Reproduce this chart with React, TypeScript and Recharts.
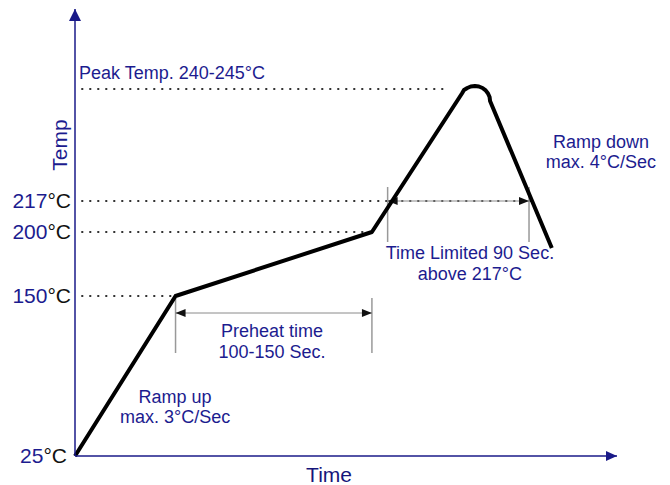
import React from "react";
import { ComposedChart, Line, XAxis, YAxis, ReferenceLine, ReferenceDot } from "recharts";

// schematic reflow profile: time in seconds, height is a display level (not linear in °C)
const profileTime = [0, 64, 189, 246.3, 247.6, 249.7, 251.9, 254.6, 257.1, 259.4, 261.4, 262.9, 263.9, 264.2, 303.5];
const profileLevel = [0, 160, 224, 362.5, 366, 368, 369.5, 370, 369.5, 368, 365.6, 362.5, 359, 355, 208];

const tempTicks = [0, 160, 224, 255];
const tempLabels = ["25", "150", "200", "217"];
const peakLevel = 367;
const peakLabel = "Peak Temp. 240-245°C";

// where each dotted guide stops (seconds)
const guideEnds = [0, 64, 189, 294];
const peakGuideEnd = 238;

const preheatStart = 64;
const preheatEnd = 189;
const liquidStart = 199;
const liquidEnd = 289;

const X_MAX = 345;
const Y_MAX = 447;

const NAVY = "#1c1c8f";
const AXIS = "#1a1a88";
const FONT = "'Liberation Sans', Arial, sans-serif";

var chartData: { t: number; level: number }[] = [];
for (var i = 0; i < profileTime.length; i++) {
  chartData.push({ t: profileTime[i], level: profileLevel[i] });
}

function TempTick(props: any) {
  var idx = tempTicks.indexOf(props.payload.value);
  var dx = idx === 0 ? -4 : 0;
  return (
    <text x={props.x + dx - 1} y={props.y + 7} textAnchor="end" fontSize={21} fontFamily={FONT}>
      <tspan fill={NAVY}>{tempLabels[idx]}</tspan>
      <tspan fill="#111">°C</tspan>
    </text>
  );
}

function textShape(lines: string[], opts: any) {
  return function (p: any) {
    var size = opts.size || 18;
    var gap = opts.gap || 20;
    return (
      <text
        x={p.cx}
        y={p.cy}
        textAnchor={opts.anchor || "middle"}
        fontSize={size}
        fontFamily={FONT}
        fill={opts.color || NAVY}
        transform={opts.rotate ? "rotate(-90," + p.cx + "," + p.cy + ")" : undefined}
      >
        {lines.map(function (l, k) {
          return (
            <tspan key={k} x={p.cx} dy={k === 0 ? 0 : gap}>
              {l}
            </tspan>
          );
        })}
      </text>
    );
  };
}

function ArrowUp(p: any) {
  var x = p.cx, y = p.cy;
  return <polygon points={x + "," + y + " " + (x - 6) + "," + (y + 12) + " " + (x + 6) + "," + (y + 12)} fill={AXIS} />;
}

function ArrowRight(p: any) {
  var x = p.cx, y = p.cy;
  return <polygon points={x + "," + y + " " + (x - 11) + "," + (y - 5) + " " + (x - 11) + "," + (y + 5)} fill={AXIS} />;
}

function DimLine(p: any) {
  var x1 = p.x1, x2 = p.x2, y = p.y1;
  return (
    <g>
      <line x1={x1} y1={y} x2={x2} y2={y} stroke="#8a8a8a" strokeWidth={1} />
      <polygon points={x1 + "," + y + " " + (x1 + 10) + "," + (y - 4) + " " + (x1 + 10) + "," + (y + 4)} fill="#111" />
      <polygon points={x2 + "," + y + " " + (x2 - 10) + "," + (y - 4) + " " + (x2 - 10) + "," + (y + 4)} fill="#111" />
    </g>
  );
}

export default function App() {
  return (
    <div style={{ position: "absolute", left: 0, top: 0, background: "#fff" }}>
      <ComposedChart width={670} height={485} data={chartData} margin={{ top: 9, right: 53, bottom: 0, left: 0 }}>
        <XAxis
          dataKey="t"
          type="number"
          domain={[0, X_MAX]}
          tick={false}
          tickLine={false}
          height={29}
          axisLine={{ stroke: AXIS, strokeWidth: 1.5 }}
        />
        <YAxis
          type="number"
          domain={[0, Y_MAX]}
          ticks={tempTicks}
          interval={0}
          width={75}
          tickLine={false}
          tickSize={0}
          tickMargin={3}
          tick={<TempTick />}
          axisLine={{ stroke: AXIS, strokeWidth: 1.5 }}
        />

        {/* dotted guides */}
        {tempTicks.map(function (lv, k) {
          if (k === 0) return null;
          return (
            <ReferenceLine
              key={"g" + k}
              segment={[{ x: 4, y: lv }, { x: guideEnds[k], y: lv }]}
              stroke="#333"
              strokeWidth={1.8}
              strokeDasharray="2 6"
              ifOverflow="visible"
            />
          );
        })}
        <ReferenceLine
          segment={[{ x: 4, y: peakLevel }, { x: peakGuideEnd, y: peakLevel }]}
          stroke="#333"
          strokeWidth={1.8}
          strokeDasharray="2 6"
          ifOverflow="visible"
        />

        {/* preheat dimension */}
        <ReferenceLine segment={[{ x: preheatStart, y: 159 }, { x: preheatStart, y: 103 }]} stroke="#999" strokeWidth={1.5} />
        <ReferenceLine segment={[{ x: preheatEnd, y: 158 }, { x: preheatEnd, y: 103 }]} stroke="#999" strokeWidth={1.5} />
        <ReferenceLine segment={[{ x: preheatStart, y: 143 }, { x: preheatEnd, y: 143 }]} shape={DimLine} />

        {/* time above liquidus */}
        <ReferenceLine segment={[{ x: liquidStart, y: 269 }, { x: liquidStart, y: 214 }]} stroke="#999" strokeWidth={1.5} />
        <ReferenceLine segment={[{ x: liquidEnd, y: 269 }, { x: liquidEnd, y: 214 }]} stroke="#999" strokeWidth={1.5} />
        <ReferenceLine segment={[{ x: liquidStart, y: 255 }, { x: liquidEnd, y: 255 }]} shape={DimLine} />

        <Line
          dataKey="level"
          type="linear"
          stroke="#000"
          strokeWidth={4}
          strokeLinejoin="round"
          dot={false}
          isAnimationActive={false}
        />

        {/* axis arrowheads */}
        <ReferenceDot x={0} y={Y_MAX} r={0} ifOverflow="visible" shape={ArrowUp} />
        <ReferenceDot x={X_MAX} y={0} r={0} ifOverflow="visible" shape={ArrowRight} />

        {/* annotations */}
        <ReferenceDot x={2.5} y={377} r={0} ifOverflow="visible" shape={textShape([peakLabel], { anchor: "start" })} />
        <ReferenceDot x={-5.1} y={311} r={0} ifOverflow="visible" shape={textShape(["Temp"], { size: 21, rotate: true })} />
        <ReferenceDot x={161.7} y={-26} r={0} ifOverflow="visible" shape={textShape(["Time"], { size: 21, color: "#15157a" })} />
        <ReferenceDot x={63.7} y={53} r={0} ifOverflow="visible" shape={textShape(["Ramp up", "max. 3°C/Sec"], {})} />
        <ReferenceDot x={125.4} y={119} r={0} ifOverflow="visible" shape={textShape(["Preheat time", "100-150 Sec."], { gap: 21 })} />
        <ReferenceDot x={251.4} y={197} r={0} ifOverflow="visible" shape={textShape(["Time Limited 90 Sec.", "above 217°C"], { gap: 21 })} />
        <ReferenceDot x={334.8} y={308} r={0} ifOverflow="visible" shape={textShape(["Ramp down", "max. 4°C/Sec"], {})} />
      </ComposedChart>
    </div>
  );
}
